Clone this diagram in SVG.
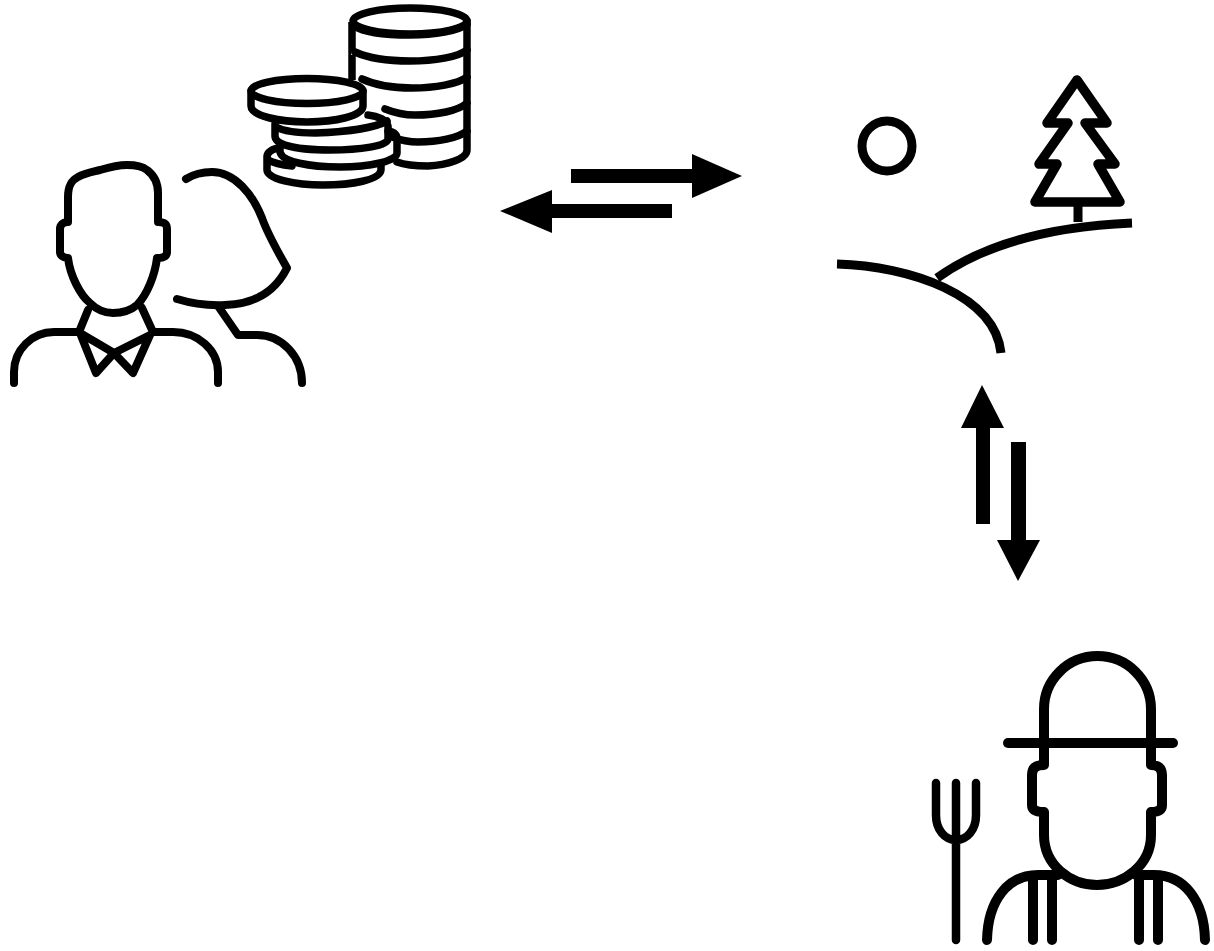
<svg xmlns="http://www.w3.org/2000/svg" width="1214" height="951" viewBox="0 0 1214 951">
<defs>
<style>
.s{fill:none;stroke:#000;stroke-linecap:round;stroke-linejoin:round}
.a{fill:#000;stroke:none}
#coins .s{stroke-width:7.500}
#people .s,#couple .s{stroke-width:8}
#land .s{stroke-width:9;stroke-linecap:butt}
#land .t{stroke-width:9.500;stroke-linejoin:round}
#farmer .s{stroke-width:10}
#farmer .f{stroke-width:8.500}
</style>
<filter id="b" x="-5%" y="-5%" width="110%" height="110%"><feGaussianBlur stdDeviation="0.7"/></filter>
</defs>
<rect width="1214" height="951" fill="#fff"/>
<g filter="url(#b)">
<g id="coins">
<path class="s" d="M352 22V80" style="stroke-linecap:butt"/>
<path d="M352 24V80" stroke="#fff" stroke-width="1.6" stroke-dasharray="3 25" fill="none"/>
<ellipse class="s" cx="410" cy="21" rx="57" ry="13"/>
<path class="s" d="M467 21V150C467 159 447 165 428 166C415 166 405 165 397 162"/>
<path class="s" d="M354 26C365 33 388 35 410 35C435 35 458 31 467 24M355 52C368 58 388 61 410 61C435 61 458 57 467 50M362 79C375 85 392 88 412 88C435 88 458 84 467 77M385 109C395 113 405 115 415 115C437 115 458 111 467 103M392 137C400 140 408 142 418 142C438 142 458 138 467 131"/>
<ellipse class="s" cx="307" cy="91" rx="56" ry="12.500"/>
<path class="s" d="M251 91V106C251 116 280 122 307 122C335 122 363 116 363 106V91"/>
<path class="s" d="M368 115C378 116 387 120 388 126V139C388 146 360 150 330 150C300 150 275 146 275 136V124"/>
<path class="s" d="M276 127C285 132 300 133 315 133C345 132 375 128 387 121"/>
<path class="s" d="M388 131C394 132 397 135 397 139V153C397 161 370 167 340 167C310 167 282 162 280 152V146"/>
<path class="s" d="M278 148C270 150 267 153 267 157V170C267 179 295 185 323 185C352 185 380 180 381 170V166"/>
<path class="s" d="M268 160C275 164 282 165 292 166"/>
</g>
<g id="people">
<path class="s" d="M68 222V197C68 185 72 180 78 177C85 173 92 172 100 170C110 167 118 165 127 165C135 165 142 166 147 170C155 176 158 185 158 193V222C164 222 167 224 167 229V252C167 256 164 258 157 258C155 275 147 295 137 305C130 311 122 313 113 313C105 313 97 310 90 303C80 295 70 275 68 258C63 258 60 255 60 252V229C60 225 63 222 68 222Z"/>
<path class="s" d="M88 310L79 332M142 308L153 332M14 383V372A40 40 0 0 1 54 332H79M218 383V372A45 40 0 0 0 173 332H153"/>
<path class="s" d="M80 333L96 373L114 353L133 373L150 335L114 353Z"/>
</g>
<g id="couple">
<path class="s" d="M186 179C194 174 203 172 212 172C235 172 253 195 262 218C268 235 278 252 287 268C277 288 258 304 225 305C205 306 190 303 177 299"/>
<path class="s" d="M218 306L238 335H257A45 48 0 0 1 302 383"/>
</g>
<g id="land">
<circle class="s" cx="887" cy="146" r="25"/>
<path class="s t" d="M1077 80L1047 123H1068L1039 164H1057L1035 202H1120L1098 164H1115L1085 123H1107Z"/>
<path class="s" d="M1078 202V222"/>
<path class="s" d="M1132 223C1060 226 990 240 937 278"/>
<path class="s" d="M837 264C910 266 995 295 1001 353"/>
</g>
<g id="farmer">
<path class="s" d="M1044 743V709A53.500 53 0 0 1 1151 709V743"/>
<path class="s" d="M1008 743H1173"/>
<path class="s" d="M1044 743V765C1036 765 1032 768 1032 775V805C1032 810 1036 812 1044 812V835C1044 865 1070 885 1097 885C1124 885 1151 865 1151 835V812C1158 812 1162 810 1162 805V775C1162 768 1158 765 1151 765V743"/>
<path class="s" d="M987 940C988 900 1008 875 1038 875H1058M1205 940C1204 900 1184 875 1154 875H1136"/>
<path class="s" d="M1033 877V940M1052 880V940M1139 880V940M1158 877V940"/>
<path class="s f" d="M956 783V940M936 783V815C936 830 945 840 956 840C967 840 976 830 976 815V783"/>
</g>
<g id="connectors">
<path class="a" d="M571 169H692V154L742 176L692 198V183H571Z"/>
<path class="a" d="M672 204H552V190L500 211L552 233V218H672Z"/>
<path class="a" d="M976 524V428H961L982 385L1004 428H990V524Z"/>
<path class="a" d="M1011 442V540H997L1018 581L1040 540H1026V442Z"/>
</g>
</g>
</svg>
